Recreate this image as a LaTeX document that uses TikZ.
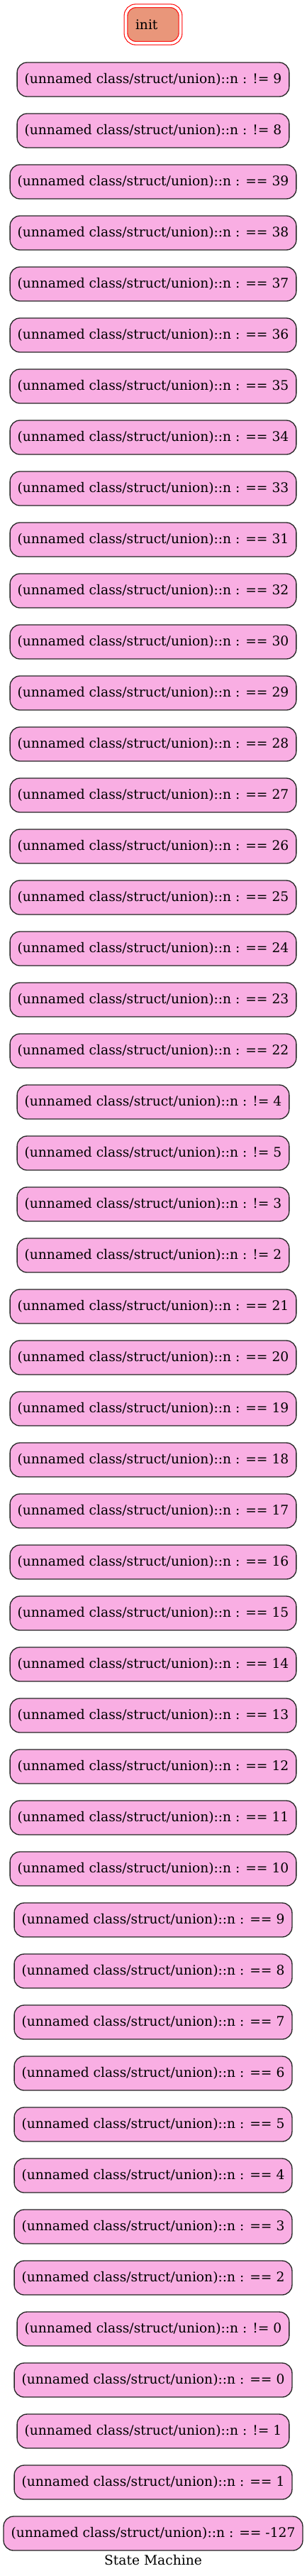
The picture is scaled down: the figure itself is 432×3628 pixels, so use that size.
\documentclass[tikz,border=0pt]{standalone}
\usepackage{fontspec}
\setmainfont{DejaVu Serif}
\usepackage{tikz}
\usetikzlibrary{positioning}
\definecolor{initfill}{RGB}{233,150,122}
\definecolor{condfill}{RGB}{249,174,227}
\newcommand{\unionn}{(unnamed class/struct/union)::n :}
\tikzstyle{every node}=[font=\fontsize{18.67}{22}\selectfont]
\tikzstyle{cond}=[draw=black!85,fill=condfill,rounded corners=14pt,line width=1.33pt,minimum height=48pt,inner xsep=10.5pt]
\tikzstyle{start}=[draw=red,fill=initfill,double=white,double distance=3.67pt,line width=1.1pt,rounded corners=14pt,minimum height=52.5pt,text width=50pt,inner xsep=13.5pt,align=left]

\begin{document}
\begin{tikzpicture}[node distance=72pt]
  \useasboundingbox (0,0) rectangle (432pt,-3628pt);
  \node[start]  (init) at (216pt,-34.5pt) {init};
  \node[cond]   (ne9)  [below of=init,node distance=77.5pt] {\unionn{} != 9};
  \node[cond]   (ne8)  [below of=ne9]  {\unionn{} != 8};
  \node[cond]   (eq39) [below of=ne8]  {\unionn{} == 39};
  \node[cond]   (eq38) [below of=eq39] {\unionn{} == 38};
  \node[cond]   (eq37) [below of=eq38] {\unionn{} == 37};
  \node[cond]   (eq36) [below of=eq37] {\unionn{} == 36};
  \node[cond]   (eq35) [below of=eq36] {\unionn{} == 35};
  \node[cond]   (eq34) [below of=eq35] {\unionn{} == 34};
  \node[cond]   (eq33) [below of=eq34] {\unionn{} == 33};
  \node[cond]   (eq31) [below of=eq33] {\unionn{} == 31};
  \node[cond]   (eq32) [below of=eq31] {\unionn{} == 32};
  \node[cond]   (eq30) [below of=eq32] {\unionn{} == 30};
  \node[cond]   (eq29) [below of=eq30] {\unionn{} == 29};
  \node[cond]   (eq28) [below of=eq29] {\unionn{} == 28};
  \node[cond]   (eq27) [below of=eq28] {\unionn{} == 27};
  \node[cond]   (eq26) [below of=eq27] {\unionn{} == 26};
  \node[cond]   (eq25) [below of=eq26] {\unionn{} == 25};
  \node[cond]   (eq24) [below of=eq25] {\unionn{} == 24};
  \node[cond]   (eq23) [below of=eq24] {\unionn{} == 23};
  \node[cond]   (eq22) [below of=eq23] {\unionn{} == 22};
  \node[cond]   (ne4)  [below of=eq22] {\unionn{} != 4};
  \node[cond]   (ne5)  [below of=ne4]  {\unionn{} != 5};
  \node[cond]   (ne3)  [below of=ne5]  {\unionn{} != 3};
  \node[cond]   (ne2)  [below of=ne3]  {\unionn{} != 2};
  \node[cond]   (eq21) [below of=ne2]  {\unionn{} == 21};
  \node[cond]   (eq20) [below of=eq21] {\unionn{} == 20};
  \node[cond]   (eq19) [below of=eq20] {\unionn{} == 19};
  \node[cond]   (eq18) [below of=eq19] {\unionn{} == 18};
  \node[cond]   (eq17) [below of=eq18] {\unionn{} == 17};
  \node[cond]   (eq16) [below of=eq17] {\unionn{} == 16};
  \node[cond]   (eq15) [below of=eq16] {\unionn{} == 15};
  \node[cond]   (eq14) [below of=eq15] {\unionn{} == 14};
  \node[cond]   (eq13) [below of=eq14] {\unionn{} == 13};
  \node[cond]   (eq12) [below of=eq13] {\unionn{} == 12};
  \node[cond]   (eq11) [below of=eq12] {\unionn{} == 11};
  \node[cond]   (eq10) [below of=eq11] {\unionn{} == 10};
  \node[cond]   (eq9)  [below of=eq10] {\unionn{} == 9};
  \node[cond]   (eq8)  [below of=eq9]  {\unionn{} == 8};
  \node[cond]   (eq7)  [below of=eq8]  {\unionn{} == 7};
  \node[cond]   (eq6)  [below of=eq7]  {\unionn{} == 6};
  \node[cond]   (eq5)  [below of=eq6]  {\unionn{} == 5};
  \node[cond]   (eq4)  [below of=eq5]  {\unionn{} == 4};
  \node[cond]   (eq3)  [below of=eq4]  {\unionn{} == 3};
  \node[cond]   (eq2)  [below of=eq3]  {\unionn{} == 2};
  \node[cond]   (ne0)  [below of=eq2]  {\unionn{} != 0};
  \node[cond]   (eq0)  [below of=ne0]  {\unionn{} == 0};
  \node[cond]   (ne1)  [below of=eq0]  {\unionn{} != 1};
  \node[cond]   (eq1)  [below of=ne1]  {\unionn{} == 1};
  \node[cond]   (eqm127) [below of=eq1] {\unionn{} == -127};
  \node         (title) [below of=eqm127,node distance=37pt] {State Machine};
\end{tikzpicture}
\end{document}
